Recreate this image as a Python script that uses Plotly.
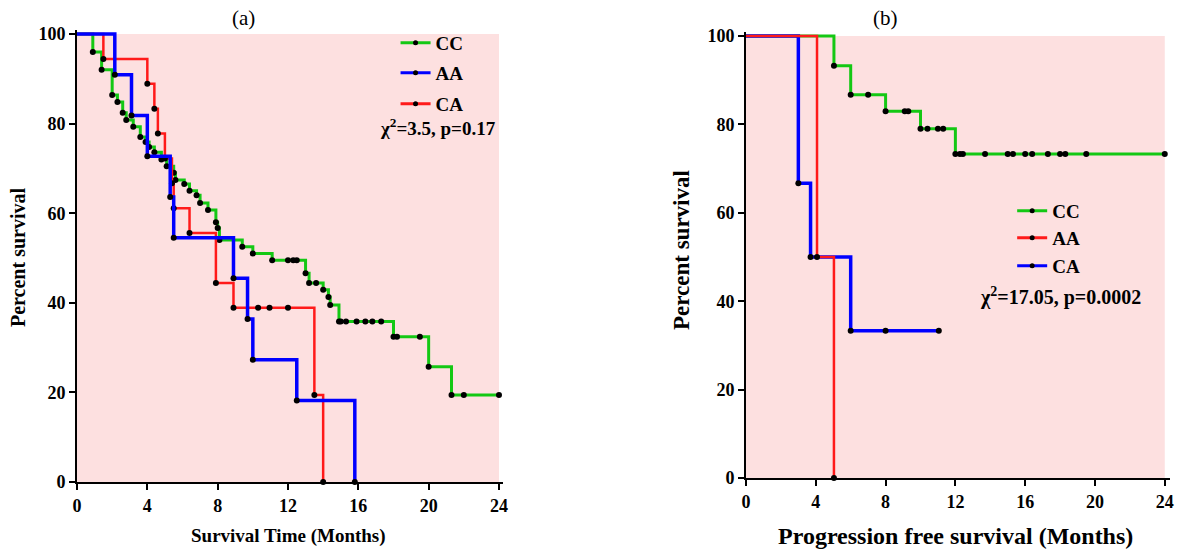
import plotly.graph_objects as go

# ---------------- data ----------------
# Panel (a): overall survival
a_cc_t = [0.9, 1.4, 2.0, 2.3, 2.6, 2.8, 3.2, 3.6, 3.9, 4.1, 4.4, 4.8, 5.1, 5.5, 5.6, 6.1, 6.4, 6.8, 7.0,
          7.45, 7.9, 8.0, 8.1, 9.4, 10.0, 11.1, 13.0, 13.2, 14.0, 14.3, 14.4, 14.9, 18.0, 20.0, 21.3]
a_cc_s = [96.0, 92.0, 86.4, 84.8, 82.4, 80.8, 79.3, 77.0, 75.9, 74.8, 73.6, 72.0, 70.5, 69.0, 67.4, 66.5, 65.0, 64.0, 62.3,
          60.7, 58.0, 56.7, 54.0, 52.5, 51.0, 49.5, 46.6, 44.4, 42.9, 41.3, 39.5, 35.8, 32.4, 25.7, 19.4]
a_cc_c = [12.0, 12.3, 12.5, 13.6, 15.0, 15.3, 15.9, 16.4, 16.8, 17.3, 18.2, 19.5, 22.0, 24.0]

a_aa_t = [2.15, 3.1, 4.0, 5.3, 5.5, 8.9, 9.7, 10.0, 12.5, 15.8]
a_aa_s = [90.9, 81.8, 72.7, 63.6, 54.5, 45.5, 36.4, 27.3, 18.2, 0.0]
a_aa_c = []

a_ca_t = [1.5, 4.0, 4.4, 4.6, 5.0, 5.4, 5.5, 6.4, 7.9, 8.9, 13.5, 14.0]
a_ca_s = [94.4, 88.9, 83.3, 77.8, 72.2, 66.7, 61.1, 55.6, 44.4, 38.9, 19.4, 0.0]
a_ca_c = [10.3, 10.95, 12.0]

# Panel (b): progression free survival
b_cc_t = [5.04, 6.0, 8.0, 10.0, 12.0]
b_cc_s = [93.3, 86.7, 83.0, 79.0, 73.3]
b_cc_c = [7.0, 9.1, 9.3, 10.4, 11.0, 11.3, 12.26, 12.43, 13.7, 15.0, 15.3, 16.0, 16.4, 17.3, 18.0, 18.3, 19.5, 24.0]

b_aa_t = [4.07, 5.04]
b_aa_s = [50.0, 0.0]
b_aa_c = []

b_ca_t = [3.0, 3.7, 6.0]
b_ca_s = [66.7, 50.0, 33.3]
b_ca_c = [8.0, 11.05]

x_ticks = [0, 4, 8, 12, 16, 20, 24]
y_ticks = [0, 20, 40, 60, 80, 100]

# ---------------- style ----------------
GREEN = "#14c814"
BLUE = "#0000ff"
RED = "#ff1a1a"
PINK = "#fde0e0"
SERIF = "Liberation Serif"

fig = go.Figure()


def surv_at(times, surv, t):
    s = 100.0
    for ti, si in zip(times, surv):
        if ti <= t:
            s = si
    return s


def add_curve(times, surv, cens, color, width, xa, ya):
    xs = [0] + list(times)
    ys = [100.0] + list(surv)
    if cens and max(cens) > xs[-1]:
        xs.append(max(cens))
        ys.append(ys[-1])
    fig.add_trace(go.Scatter(x=xs, y=ys, mode="lines", line=dict(color=color, width=width, shape="hv"),
                             xaxis=xa, yaxis=ya, showlegend=False, hoverinfo="skip"))
    mx = list(times) + list(cens)
    my = list(surv) + [surv_at(times, surv, c) for c in cens]
    fig.add_trace(go.Scatter(x=mx, y=my, mode="markers",
                             marker=dict(color="black", size=6, symbol="circle"),
                             xaxis=xa, yaxis=ya, showlegend=False, cliponaxis=False, hoverinfo="skip"))


add_curve(a_cc_t, a_cc_s, a_cc_c, GREEN, 3, "x", "y")
add_curve(a_ca_t, a_ca_s, a_ca_c, RED, 2.5, "x", "y")
add_curve(a_aa_t, a_aa_s, a_aa_c, BLUE, 3.5, "x", "y")

add_curve(b_cc_t, b_cc_s, b_cc_c, GREEN, 3, "x2", "y2")
add_curve(b_ca_t, b_ca_s, b_ca_c, BLUE, 3.5, "x2", "y2")
add_curve(b_aa_t, b_aa_s, b_aa_c, RED, 2.5, "x2", "y2")

# legend entries: one legend per entry for exact placement
legend_items = [
    ("CC", GREEN, "legend", 0.3355, 1 - 43 / 550),
    ("AA", BLUE, "legend2", 0.3355, 1 - 73 / 550),
    ("CA", RED, "legend3", 0.3355, 1 - 104 / 550),
    ("CC", GREEN, "legend4", 0.8585, 1 - 211 / 550),
    ("AA", RED, "legend5", 0.8585, 1 - 238 / 550),
    ("CA", BLUE, "legend6", 0.8585, 1 - 266 / 550),
]
legend_layout = {}
for name, color, lg, lx, ly in legend_items:
    fig.add_trace(go.Scatter(x=[None], y=[None], mode="lines+markers", name=name,
                             line=dict(color=color, width=3),
                             marker=dict(color="black", size=5),
                             legend=lg, xaxis="x", yaxis="y"))
    legend_layout[lg] = dict(x=lx, y=ly, xanchor="left", yanchor="middle",
                             bgcolor="rgba(0,0,0,0)", itemwidth=30,
                             font=dict(family=SERIF, size=19, color="black", weight="bold"))

axis_common = dict(showline=True, linecolor="black", linewidth=2, ticks="outside", ticklen=6,
                   tickwidth=2, tickcolor="black", showgrid=False, zeroline=False, automargin=False,
                   tickfont=dict(family=SERIF, size=18, color="black", weight="bold"))

fig.update_layout(
    width=1179, height=550,
    margin=dict(l=0, r=0, t=0, b=0),
    paper_bgcolor="white", plot_bgcolor="white",
    xaxis=dict(domain=[77 / 1179, 502.5 / 1179], range=[0, 24.2], tickvals=x_ticks, anchor="y", **axis_common),
    yaxis=dict(domain=[1 - 482 / 550, 1 - 29.5 / 550], range=[0, 101], tickvals=y_ticks, anchor="x", **axis_common),
    xaxis2=dict(domain=[746 / 1179, 1170 / 1179], range=[0, 24.3], tickvals=x_ticks, anchor="y2", **axis_common),
    yaxis2=dict(domain=[1 - 478 / 550, 1 - 31.6 / 550], range=[0, 101], tickvals=y_ticks, anchor="x2", **axis_common),
    **legend_layout,
)

# pink backgrounds over data area
fig.add_shape(type="rect", xref="x", yref="y", x0=0, x1=24, y0=0, y1=100, fillcolor=PINK, line_width=0, layer="below")
fig.add_shape(type="rect", xref="x2", yref="y2", x0=0, x1=24, y0=0, y1=100, fillcolor=PINK, line_width=0, layer="below")

# annotations: panel titles, axis titles, statistics
ann = [
    dict(text="(a)", x=243 / 1179, y=1 - 18 / 550, size=21, bold=False, angle=0),
    dict(text="(b)", x=885 / 1179, y=1 - 18 / 550, size=21, bold=False, angle=0),
    dict(text="Survival Time (Months)", x=288 / 1179, y=1 - 536 / 550, size=19, bold=True, angle=0),
    dict(text="Progression free survival (Months)", x=955 / 1179, y=1 - 536 / 550, size=24, bold=True, angle=0),
    dict(text="Percent survival", x=18 / 1179, y=1 - 258 / 550, size=20, bold=True, angle=-90),
    dict(text="Percent survival", x=681 / 1179, y=1 - 250 / 550, size=23, bold=True, angle=-90),
    dict(text="χ<sup>2</sup>=3.5, p=0.17", x=438 / 1179, y=1 - 127 / 550, size=19, bold=True, angle=0),
    dict(text="χ<sup>2</sup>=17.05, p=0.0002", x=1060 / 1179, y=1 - 296 / 550, size=20, bold=True, angle=0),
]
for a in ann:
    fig.add_annotation(text=a["text"], x=a["x"], y=a["y"], xref="paper", yref="paper",
                       showarrow=False, textangle=a["angle"], xanchor="center", yanchor="middle",
                       font=dict(family=SERIF, size=a["size"], color="black",
                                 weight="bold" if a["bold"] else "normal"))

fig.write_html("out.html", config={"displayModeBar": False},
               post_script="document.body.style.margin='0px';document.body.style.overflow='hidden';")
